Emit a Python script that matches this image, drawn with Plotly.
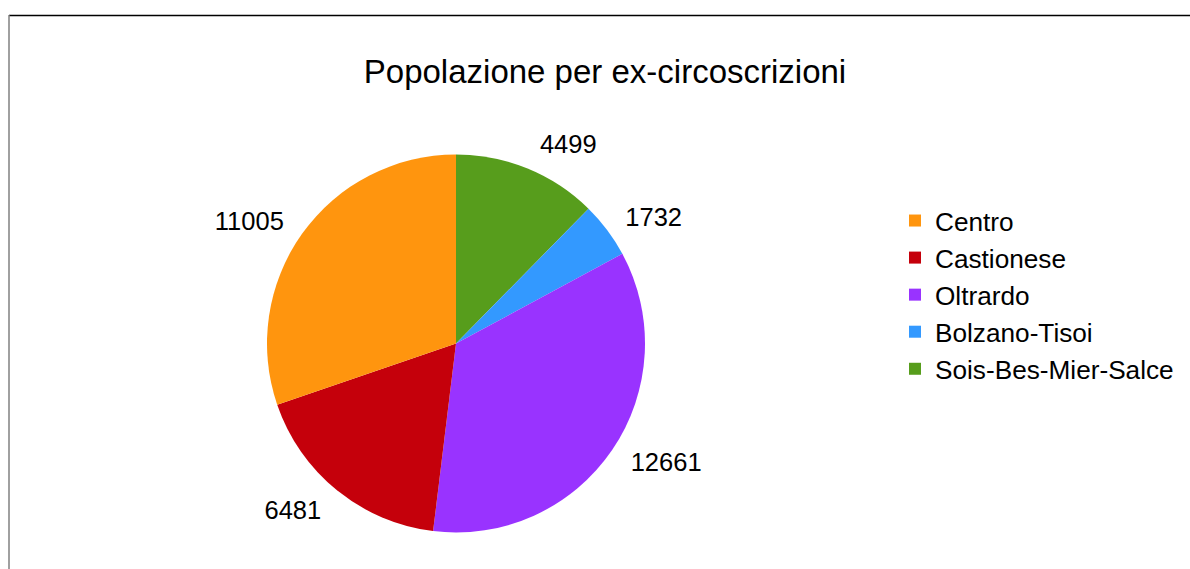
import plotly.graph_objects as go

labels = ["Centro", "Castionese", "Oltrardo", "Bolzano-Tisoi", "Sois-Bes-Mier-Salce"]
values = [11005, 6481, 12661, 1732, 4499]
colors = ["#ff950e", "#c5000b", "#9933ff", "#3399ff", "#579d1c"]
title_text = "Popolazione per ex-circoscrizioni"

W, H = 1190, 569
FONT = "Liberation Sans, Arial, sans-serif"

cx, cy, r = 456, 343.5, 189
r_lab = 203  # labels sit a bit further out than plotly's default


def dom(rad):
    return dict(x=[(cx - rad) / W, (cx + rad) / W], y=[1 - (cy + rad) / H, 1 - (cy - rad) / H])


# LibreOffice draws slices counterclockwise from 12 o'clock; equivalently,
# the reversed sequence drawn clockwise. Legend order is restored with traceorder.
fig = go.Figure()
fig.add_trace(
    go.Pie(
        labels=labels[::-1],
        values=values[::-1],
        sort=False,
        direction="clockwise",
        rotation=0,
        marker=dict(colors=colors[::-1], line=dict(width=0)),
        textinfo="none",
        domain=dom(r),
        hoverinfo="label+value",
        showlegend=True,
    )
)
# transparent twin pie carrying the value labels
fig.add_trace(
    go.Pie(
        labels=labels[::-1],
        values=values[::-1],
        sort=False,
        direction="clockwise",
        rotation=0,
        marker=dict(colors=["rgba(0,0,0,0)"] * len(values), line=dict(width=0)),
        textinfo="value",
        textposition="outside",
        texttemplate="%{value:d}",
        outsidetextfont=dict(family=FONT, size=25.5, color="#000000"),
        domain=dom(r_lab),
        hoverinfo="skip",
        showlegend=False,
    )
)

fig.update_layout(
    width=W,
    height=H,
    margin=dict(l=0, r=0, t=0, b=0),
    paper_bgcolor="#ffffff",
    plot_bgcolor="#ffffff",
    font=dict(family=FONT, color="#000000"),
    title=dict(
        text=title_text,
        x=605 / W,
        xanchor="center",
        y=1 - 71 / H,
        yanchor="middle",
        font=dict(family=FONT, size=33, color="#000000"),
    ),
    legend=dict(
        x=895 / W,
        xanchor="left",
        y=1 - 197 / H,
        yanchor="top",
        font=dict(family=FONT, size=26.2, color="#000000"),
        bgcolor="rgba(0,0,0,0)",
        traceorder="reversed",
    ),
    shapes=[
        dict(type="line", xref="paper", yref="paper", x0=9 / W, x1=1.0, y0=1 - 15.5 / H, y1=1 - 15.5 / H,
             line=dict(color="#000000", width=1.5)),
        dict(type="line", xref="paper", yref="paper", x0=9 / W, x1=9 / W, y0=1 - 15 / H, y1=0,
             line=dict(color="#808080", width=1.5)),
    ],
)

fig.write_html(
    "out.html",
    config={"displayModeBar": False},
    post_script="document.body.style.margin='0';",
)
